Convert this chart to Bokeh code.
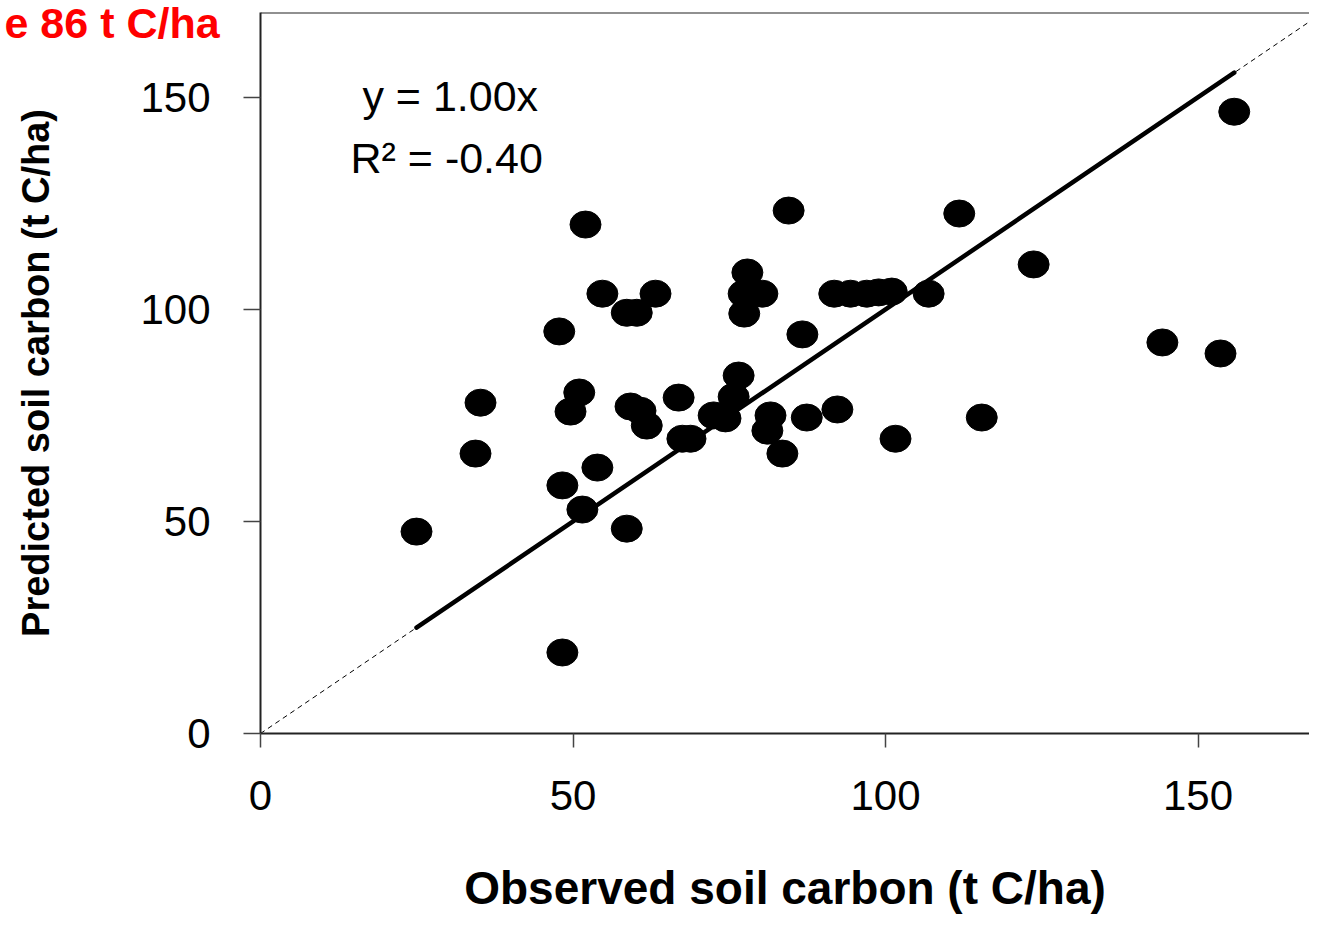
from bokeh.plotting import figure
from bokeh.models import Label, Span, FixedTicker, Range1d, ColumnDataSource, Title
from bokeh.embed import file_html
from bokeh.resources import INLINE

# ---- data ----
observed = [24.96, 48.3, 34.4, 35.2, 47.8, 52.0, 48.3, 51.5, 49.6, 51.0,
            53.9, 58.6, 54.7, 58.6, 60.2, 63.2, 59.2, 60.8, 61.8, 66.9,
            67.5, 68.8, 72.5, 74.4, 75.7, 76.5, 77.9, 77.3, 80.3, 77.4,
            81.6, 81.1, 83.5, 84.5, 86.7, 87.4, 92.3, 91.8, 94.4, 97.0,
            98.9, 101.0, 106.9, 101.6, 111.8, 115.4, 123.7, 144.3, 153.6, 155.8]
predicted = [47.6, 19.1, 66.0, 78.0, 94.8, 120.0, 58.5, 52.8, 75.9, 80.4,
             62.7, 48.3, 103.7, 99.2, 99.2, 103.7, 77.1, 76.1, 72.6, 79.2,
             69.5, 69.5, 75.0, 74.3, 79.4, 84.4, 108.7, 103.7, 103.7, 99.0,
             75.0, 71.4, 66.0, 123.3, 94.1, 74.5, 76.4, 103.7, 103.7, 103.7,
             104.0, 104.2, 103.7, 69.5, 122.6, 74.5, 110.6, 92.2, 89.6, 146.6]
x_ticks = [0, 50, 100, 150]
y_ticks = [0, 50, 100, 150]
fit_slope = 1.00
one_to_one = [0, 170]
title_text = "e 86 t C/ha"
eq_text = "y = 1.00x"
r2_text = "R\u00b2 = -0.40"
x_label = "Observed soil carbon (t C/ha)"
y_label = "Predicted soil carbon (t C/ha)"

FONT = "Liberation Sans"

p = figure(width=1309, height=917,
           x_range=Range1d(0, 167.84), y_range=Range1d(0, 170),
           output_backend="svg", toolbar_location=None,
           min_border_left=260, min_border_right=0,
           min_border_top=12, min_border_bottom=184)
p.background_fill_color = "white"
p.border_fill_color = "white"
p.outline_line_color = None
p.xgrid.grid_line_color = None
p.ygrid.grid_line_color = None

# red heading in the top-left corner (drawn as the plot title, not taking space)
p.title = Title(text=title_text, align="left", offset=-256, standoff=-68,
                vertical_align="bottom", text_font=FONT, text_font_size="43px",
                text_font_style="bold", text_color="#ff0000")

# 1:1 dashed line
p.line(one_to_one, one_to_one, line_color="black", line_width=1, line_dash="5 4")

# fitted line over range of observations
fx = [min(observed), max(observed)]
fy = [fit_slope * v for v in fx]
p.line(fx, fy, line_color="black", line_width=4.5, line_cap="round")

src = ColumnDataSource(dict(x=observed, y=predicted))
p.ellipse(x="x", y="y", width=31, height=27,
          width_units="screen", height_units="screen",
          fill_color="black", line_color="black", source=src)

# top frame border
p.add_layout(Span(location=170, dimension="width", line_color="#222222", line_width=2))

for ax, ticks in ((p.xaxis, x_ticks), (p.yaxis, y_ticks)):
    ax.ticker = FixedTicker(ticks=ticks)
    ax.minor_tick_line_color = None
    ax.major_tick_in = 0
    ax.axis_line_color = "#222222"
    ax.axis_line_width = 2
    ax.major_tick_line_color = "#444444"
    ax.major_tick_line_width = 1.5
    ax.major_label_text_font = FONT
    ax.major_label_text_font_size = "42px"
    ax.major_label_text_color = "black"
    ax.axis_label_text_font = FONT
    ax.axis_label_text_font_style = "bold"
    ax.axis_label_text_color = "black"

p.xaxis.major_tick_out = 14
p.xaxis.major_label_standoff = 33
p.xaxis.axis_label = x_label
p.xaxis.axis_label_text_font_size = "46px"
p.xaxis.axis_label_standoff = 49

p.yaxis.major_tick_out = 17
p.yaxis.major_label_standoff = 33
p.yaxis.axis_label = y_label
p.yaxis.axis_label_text_font_size = "38px"
p.yaxis.axis_label_standoff = 80

p.add_layout(Label(x=16.3, y=150.4, text=eq_text, text_font=FONT,
                   text_font_size="43px", text_baseline="middle", text_color="black"))
p.add_layout(Label(x=14.4, y=135.6, text=r2_text, text_font=FONT,
                   text_font_size="43px", text_baseline="middle", text_color="black"))

open("out.html", "w").write(file_html(p, INLINE))
